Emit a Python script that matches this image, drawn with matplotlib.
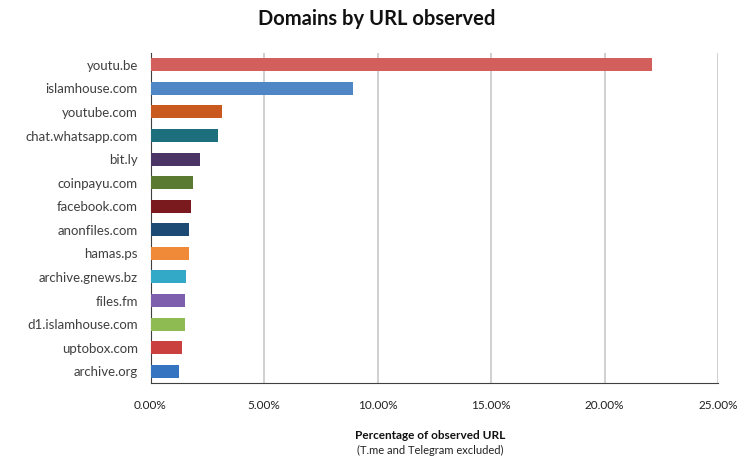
import matplotlib
matplotlib.use("Agg")
import matplotlib.pyplot as plt
from matplotlib.ticker import FuncFormatter

plt.rcParams["font.family"] = ["Lato", "DejaVu Sans"]

domains = ["youtu.be", "islamhouse.com", "youtube.com", "chat.whatsapp.com", "bit.ly",
           "coinpayu.com", "facebook.com", "anonfiles.com", "hamas.ps", "archive.gnews.bz",
           "files.fm", "d1.islamhouse.com", "uptobox.com", "archive.org"]
percent = [22.1, 8.93, 3.15, 2.98, 2.17, 1.86, 1.79, 1.69, 1.69, 1.58, 1.51, 1.51, 1.38, 1.25]
colors = ["#d35f5d", "#4f86c6", "#c9591f", "#1d6f7e", "#4a3566", "#5a7a31", "#7a1a1f",
          "#1b4a74", "#f08a38", "#33a9c7", "#7d5fae", "#8fbb53", "#c9403f", "#3574c0"]
xticks = [0, 5, 10, 15, 20, 25]

fig = plt.figure(figsize=(7.41, 4.59), dpi=100)
ax = fig.add_axes([150.5/741, 1-383/459, (718-150.5)/741, (383-53)/459])

ypos = list(range(len(domains)))
ax.barh(ypos, percent, height=0.55, color=colors, zorder=3)
ax.set_ylim(len(domains) - 0.5, -0.5)
ax.set_yticks(ypos)
ax.set_yticklabels(domains, fontsize=9.5, color="#404040")
ax.set_xlim(0, 25)
ax.set_xticks(xticks)
ax.xaxis.set_major_formatter(FuncFormatter(lambda v, p: f"{v:.2f}%"))
ax.tick_params(axis="x", labelsize=8.5, colors="#202020", length=0, pad=12)
ax.tick_params(axis="y", length=0, pad=9)
ax.grid(axis="x", color="#c8c8c8", linewidth=1.2, zorder=0)
for s in ["top", "right"]:
    ax.spines[s].set_visible(False)
ax.spines["left"].set_color("#404040")
ax.spines["bottom"].set_color("#404040")

fig.text(0.508, 0.958, "Domains by URL observed", ha="center", va="center",
         fontsize=14.5, fontweight="bold", color="#111111")
fig.text(0.58, 0.051, "Percentage of observed URL", ha="center", va="center",
         fontsize=8.5, fontweight="bold", color="#111111")
fig.text(0.58, 0.018, "(T.me and Telegram excluded)", ha="center", va="center",
         fontsize=8, color="#222222")

fig.savefig("out.png", dpi=100)
